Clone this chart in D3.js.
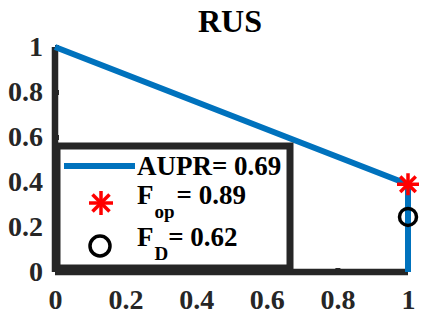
<!DOCTYPE html>
<html><head><meta charset="utf-8">
<script src="https://cdn.jsdelivr.net/npm/d3@7"></script>
<style>body{margin:0;background:#fff}svg{display:block}</style>
</head><body>
<script>
const title = "RUS";
const recall = [0, 1, 1];
const precision = [1, 0.39, 0];
const fop = {x: 1, y: 0.39};
const fd = {x: 1, y: 0.245};
const xTicks = [0, 0.2, 0.4, 0.6, 0.8, 1];
const yTicks = [0, 0.2, 0.4, 0.6, 0.8, 1];
const legendLabels = ["AUPR= 0.69", "0.89", "0.62"];

const W = 423, H = 319;
const svg = d3.select("body").append("svg").attr("width", W).attr("height", H);
const x = d3.scaleLinear().domain([0, 1]).range([55, 408]);
const y = d3.scaleLinear().domain([0, 1]).range([272, 47]);
const font = "'Liberation Serif','Times New Roman',serif";
const axc = "#262626";

svg.append("text").attr("x", 230).attr("y", 32).attr("text-anchor", "middle")
  .attr("font-family", font).attr("font-weight", "bold").attr("font-size", 32).text(title);

// axes
const xa = svg.append("g").attr("transform", `translate(0,${y(0)})`)
  .call(d3.axisBottom(x).tickValues(xTicks).tickSize(-4).tickPadding(17).tickFormat(d3.format("")));
const ya = svg.append("g").attr("transform", `translate(${x(0)},0)`)
  .call(d3.axisLeft(y).tickValues(yTicks).tickSize(-4).tickPadding(12).tickFormat(d3.format("")));
[xa, ya].forEach(a => {
  a.select(".domain").attr("stroke", axc).attr("stroke-width", 6.5);
  a.selectAll(".tick line").attr("stroke", axc).attr("stroke-width", 5);
  a.selectAll("text").attr("font-family", font).attr("font-weight", "bold")
    .attr("font-size", 28).attr("fill", axc);
});
xa.select(".domain").attr("d", `M${x(0)},0H${x(1)}`);
ya.select(".domain").attr("d", `M0,${y(0)}V${y(1)}`);

// curve
svg.append("path").datum(recall.map((r, i) => [r, precision[i]]))
  .attr("fill", "none").attr("stroke", "#0072BD").attr("stroke-width", 6)
  .attr("d", d3.line().x(d => x(d[0])).y(d => y(d[1])));

function asterisk(g, cx, cy, r) {
  for (let k = 0; k < 4; k++) {
    const a = k * Math.PI / 4;
    g.append("line").attr("x1", cx - r * Math.cos(a)).attr("y1", cy - r * Math.sin(a))
      .attr("x2", cx + r * Math.cos(a)).attr("y2", cy + r * Math.sin(a))
      .attr("stroke", "#ff0000").attr("stroke-width", 3.5);
  }
}
asterisk(svg, x(fop.x), y(fop.y), 11);
svg.append("circle").attr("cx", x(fd.x)).attr("cy", y(fd.y)).attr("r", 8.5)
  .attr("fill", "none").attr("stroke", "#000").attr("stroke-width", 3.5);

// legend
const lg = svg.append("g");
lg.append("rect").attr("x", 57).attr("y", 146).attr("width", 233).attr("height", 122)
  .attr("fill", "#fff").attr("stroke", axc).attr("stroke-width", 7);
lg.append("line").attr("x1", 64).attr("x2", 135).attr("y1", 166).attr("y2", 166)
  .attr("stroke", "#0072BD").attr("stroke-width", 6);
const tf = t => t.attr("font-family", font).attr("font-weight", "bold").attr("font-size", 27).attr("fill", "#000");
tf(lg.append("text").attr("x", 137).attr("y", 175).text(legendLabels[0]));
asterisk(lg, 101, 203, 12);
const t1 = tf(lg.append("text").attr("x", 137).attr("y", 204));
t1.append("tspan").text("F");
t1.append("tspan").attr("dy", 14).attr("font-size", 19).attr("dx", 1).text("op");
t1.append("tspan").attr("dy", -14).attr("dx", 2).text("= " + legendLabels[1]);
lg.append("circle").attr("cx", 100).attr("cy", 246).attr("r", 10)
  .attr("fill", "none").attr("stroke", "#000").attr("stroke-width", 3.5);
const t2 = tf(lg.append("text").attr("x", 137).attr("y", 246));
t2.append("tspan").text("F");
t2.append("tspan").attr("dy", 14).attr("font-size", 19).attr("dx", 1).text("D");
t2.append("tspan").attr("dy", -14).text("= " + legendLabels[2]);
</script>
</body></html>
